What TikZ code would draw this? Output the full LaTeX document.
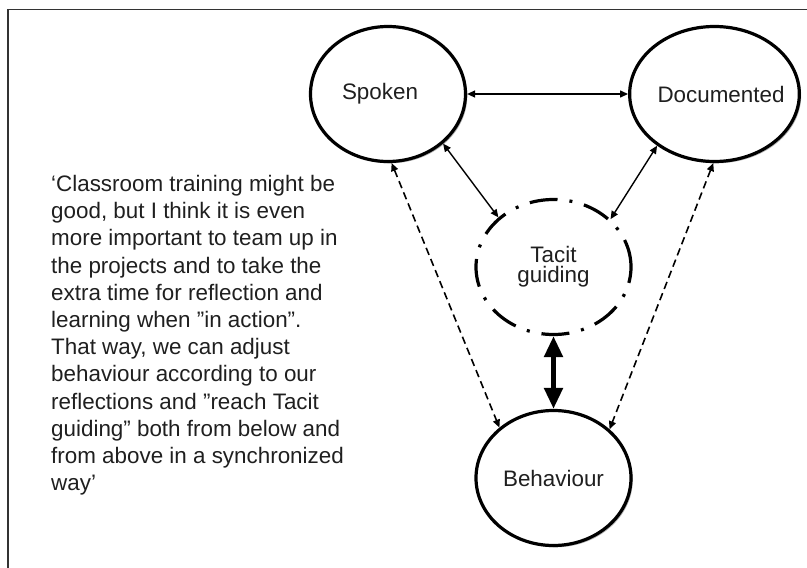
\documentclass[tikz,border=0pt]{standalone}
\usepackage{fontspec}
\setmainfont{Liberation Sans}
\usetikzlibrary{shapes.geometric,arrows.meta,shadows}
\begin{document}
\begin{tikzpicture}[x=1pt,y=-1pt,
  stage/.style={ellipse, draw=black, line width=3.2pt, fill=white, inner sep=0pt,
    minimum width=155pt, minimum height=135pt,
    font=\fontsize{22.4}{23}\selectfont, text=black!88, align=center},
  shade/.style={drop shadow={shadow xshift=1.8pt, shadow yshift=-1.8pt, opacity=0.3, fill=black}},
  tacitline/.style={dash pattern=on 28pt off 12pt on 3pt off 12pt},
  solidlink/.style={line width=1.4pt, {Triangle[length=8pt,width=7pt]}-{Triangle[length=8pt,width=7pt]}},
  dashlink/.style={line width=1.6pt, dash pattern=on 7.5pt off 4.5pt, {Triangle[length=8pt,width=7pt]}-{Triangle[length=8pt,width=7pt]}},
  boldlink/.style={line width=5pt, {Triangle[length=21pt,width=18pt]}-{Triangle[length=21pt,width=18pt]}},
  quote/.style={anchor=north west, inner sep=0pt, align=left, text=black!88,
    font=\fontsize{22.4}{27.2}\selectfont}
]
\useasboundingbox (0,0) rectangle (807,568);
% frame
\coordinate (fbl) at (8,568);
\coordinate (ftl) at (8,9.5);
\coordinate (ftr) at (807,9.5);
\draw[black!80, line width=1.2pt] (fbl) -- (ftl) -- (ftr);

% nodes
\node[stage, shade] (spoken) at (388,94) {Spoken\hspace{16pt}};
\node[stage, shade, minimum width=160pt] (doc) at (714.5,94) {\makebox[120pt][l]{\hspace{3pt}Documented}};
\node[stage, shade] (beh) at (553.5,478) {Behaviour};
\node[stage, draw=none] (tacit) at (553.5,267) {Tacit\\[-3pt]guiding};
\draw[line width=3.2pt, tacitline] (tacit.center) ellipse [x radius=77.5pt, y radius=67.5pt];

% quote
\node[quote] (q) at (51,175) {‘Classroom training might be\\
good, but I think it is even\\
more important to team up in\\
the projects and to take the\\
extra time for reflection and\\
learning when ”in action”.\\
That way, we can adjust\\
behaviour according to our\\
reflections and ”reach Tacit\\
guiding” both from below and\\
from above in a synchronized\\
way’};

% connectors
\draw[solidlink] (spoken.east) -- (doc.west);
\draw[solidlink] (spoken.-42) -- (tacit.138.6);
\draw[solidlink] (doc.-138.7) -- (tacit.40.4);
\draw[dashlink] (spoken.-87.4) -- (beh.137.9);
\draw[dashlink] (doc.-91) -- (beh.41);
\draw[boldlink] (tacit.south) -- (beh.north);
\end{tikzpicture}
\end{document}
